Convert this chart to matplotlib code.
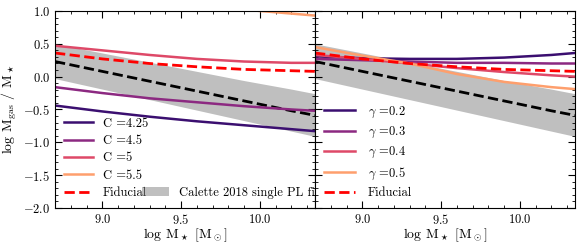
import numpy as np
import matplotlib
matplotlib.use("Agg")
import matplotlib.pyplot as plt
from matplotlib.ticker import MultipleLocator

plt.rcParams['font.family'] = 'serif'
plt.rcParams['font.serif'] = ['cmr10']
plt.rcParams['mathtext.fontset'] = 'cm'
plt.rcParams['axes.formatter.use_mathtext'] = True

# stellar mass grid (log Msun)
logm = [8.7, 9.0, 9.3, 9.6, 9.9, 10.2, 10.35]

# Calette 2018 single power-law fit: central value and band
calette_mid = [0.23, 0.08, -0.07, -0.22, -0.37, -0.52, -0.59]
calette_lo = [-0.03, -0.19, -0.35, -0.51, -0.67, -0.83, -0.91]
calette_hi = [0.50, 0.36, 0.22, 0.08, -0.06, -0.19, -0.26]

# fiducial model
fiducial = [0.36, 0.27, 0.20, 0.15, 0.11, 0.09, 0.08]

# left panel: varying C
c_labels = ['C =4.25', 'C =4.5', 'C =5', 'C =5.5']
c_4_25 = [-0.44, -0.53, -0.61, -0.68, -0.74, -0.80, -0.83]
c_4_5 = [-0.16, -0.25, -0.33, -0.39, -0.45, -0.50, -0.52]
c_5 = [0.47, 0.40, 0.33, 0.27, 0.23, 0.21, 0.21]
c_5_5 = [1.38, 1.28, 1.18, 1.09, 1.02, 0.96, 0.93]

# right panel: varying gamma
g_labels = [r'$\gamma$ =0.2', r'$\gamma$ =0.3', r'$\gamma$ =0.4', r'$\gamma$ =0.5']
g_0_2 = [0.31, 0.28, 0.27, 0.27, 0.29, 0.33, 0.36]
g_0_3 = [0.27, 0.25, 0.23, 0.21, 0.21, 0.20, 0.20]
g_0_4 = [0.33, 0.27, 0.20, 0.13, 0.07, 0.02, 0.00]
g_0_5 = [0.45, 0.32, 0.20, 0.04, -0.08, -0.16, -0.19]

colors = ['#3b0f70', '#8c2981', '#de4968', '#fe9f6d']

fig = plt.figure(figsize=(5.81, 2.49), dpi=100)
ax1 = fig.add_axes([0.0947, 0.1647, 0.4475, 0.7913])
ax2 = fig.add_axes([0.5422, 0.1647, 0.4475, 0.7913], sharey=ax1)

for ax in (ax1, ax2):
    band = ax.fill_between(logm, calette_lo, calette_hi, color='grey', alpha=0.5, lw=0)
    ax.plot(logm, calette_mid, color='k', ls='--', lw=2)

lines1 = []
for vals, lab, col in zip([c_4_25, c_4_5, c_5, c_5_5], c_labels, colors):
    l, = ax1.plot(logm, vals, color=col, lw=1.8, label=lab)
    lines1.append(l)
fid1, = ax1.plot(logm, fiducial, color='red', ls='--', lw=2, label='Fiducial')
lines1.append(fid1)

lines2 = []
for vals, lab, col in zip([g_0_2, g_0_3, g_0_4, g_0_5], g_labels, colors):
    l, = ax2.plot(logm, vals, color=col, lw=1.8, label=lab)
    lines2.append(l)
fid2, = ax2.plot(logm, fiducial, color='red', ls='--', lw=2, label='Fiducial')
lines2.append(fid2)

leg1 = ax1.legend(handles=lines1, loc='lower left', frameon=False, fontsize=9,
                  handlelength=2.3, labelspacing=0.42, borderaxespad=0.3)
ax1.add_artist(leg1)
ax1.legend(handles=[band], labels=['Calette 2018 single PL fit'], loc='lower left',
           bbox_to_anchor=(0.3, 0.0), frameon=False, fontsize=9,
           handlelength=2.2, borderaxespad=0.3)
ax2.legend(handles=lines2, loc='lower left', frameon=False, fontsize=9,
           handlelength=2.5, labelspacing=0.42, borderaxespad=0.3, handletextpad=1.0)

for ax in (ax1, ax2):
    ax.set_xlim(8.7, 10.35)
    ax.set_ylim(-2.0, 1.0)
    ax.xaxis.set_major_locator(MultipleLocator(0.5))
    ax.xaxis.set_minor_locator(MultipleLocator(0.1))
    ax.yaxis.set_major_locator(MultipleLocator(0.5))
    ax.yaxis.set_minor_locator(MultipleLocator(0.1))
    ax.tick_params(which='both', direction='in', top=True, right=True, labelsize=9)
    ax.tick_params(which='major', length=5)
    ax.tick_params(which='minor', length=2.5)
    ax.set_xlabel(r'log M$_\star$ [M$_\odot$]', fontsize=10, labelpad=0)

ax2.tick_params(labelleft=False)
ax1.set_ylabel(r'log M$_{\rm gas}$ / M$_\star$', fontsize=10)
ax1.yaxis.set_label_coords(-0.14, 0.5)

fig.savefig('out.png', dpi=100)
